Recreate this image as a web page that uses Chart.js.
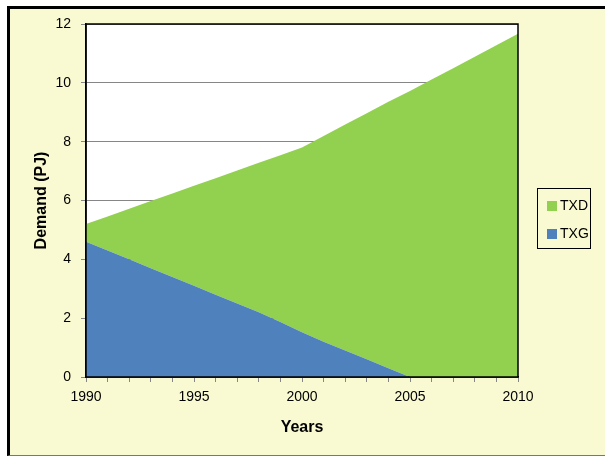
<!DOCTYPE html>
<html>
<head>
<meta charset="utf-8">
<script src="https://cdn.jsdelivr.net/npm/chart.js@4/dist/chart.umd.min.js"></script>
<style>
  html, body { margin:0; padding:0; background:#ffffff; width:605px; height:456px; overflow:hidden; }
  #frame { position:absolute; left:7px; top:6px; width:620px; height:446px; background:#fafad2;
           border-top:3px solid #000; border-left:3px solid #000; border-bottom:1px solid #777; }
  #wrap { position:absolute; left:0; top:0; width:605px; height:456px; }
  #legend { position:absolute; left:537px; top:188px; width:52px; height:59px; border:1px solid #000;
            font-family:"Liberation Sans", Arial, sans-serif; font-size:14px; color:#000; }
  .item { position:absolute; left:9px; height:16px; line-height:16px; }
  .sw { display:inline-block; width:10px; height:10px; vertical-align:-1px; margin-right:3px; }
</style>
</head>
<body>
<div id="frame"></div>
<div id="wrap"><canvas id="c" width="605" height="456"></canvas></div>
<div id="legend">
  <div class="item" style="top:8px"><span class="sw" style="background:#92d050"></span>TXD</div>
  <div class="item" style="top:36px"><span class="sw" style="background:#4f81bd"></span>TXG</div>
</div>
<script>
const years = ['1990','1991','1992','1993','1994','1995','1996','1997','1998','1999','2000',
               '2001','2002','2003','2004','2005','2006','2007','2008','2009','2010'];
const txg = [4.6,4.3,4.0,3.7,3.4,3.1,2.8,2.5,2.2,1.87,1.52,1.2,0.9,0.6,0.3,0,0,0,0,0,0];
const txd = [0.6,1.16,1.72,2.28,2.84,3.4,3.96,4.52,5.08,5.67,6.28,6.99,7.68,8.37,9.06,9.72,10.11,10.5,10.89,11.28,11.67];
const yTicks = [0,2,4,6,8,10,12];

const plotFrame = {
  id: 'plotFrame',
  beforeDraw(chart) {
    const a = chart.chartArea, ctx = chart.ctx;
    ctx.save();
    ctx.fillStyle = '#ffffff';
    ctx.fillRect(a.left, a.top, a.right - a.left, a.bottom - a.top);
    ctx.restore();
  },
  afterDraw(chart) {
    const a = chart.chartArea, ctx = chart.ctx;
    ctx.save();
    ctx.strokeStyle = '#000';
    ctx.lineWidth = 1.5;
    ctx.strokeRect(a.left, a.top, a.right - a.left, a.bottom - a.top);
    ctx.restore();
  }
};

new Chart(document.getElementById('c'), {
  type: 'line',
  data: {
    labels: years,
    datasets: [
      { label: 'TXG', data: txg, backgroundColor: '#4f81bd', borderColor: '#4f81bd', borderWidth: 0,
        fill: 'origin', pointRadius: 0, tension: 0, stack: 's' },
      { label: 'TXD', data: txd, backgroundColor: '#92d050', borderColor: '#92d050', borderWidth: 0,
        fill: '-1', pointRadius: 0, tension: 0, stack: 's' }
    ]
  },
  options: {
    responsive: false,
    animation: false,
    layout: { padding: { left: 12, top: 24, right: 87, bottom: 19 } },
    plugins: { legend: { display: false }, tooltip: { enabled: false } },
    scales: {
      x: {
        type: 'category',
        offset: false,
        grid: { drawOnChartArea: false, drawTicks: true, tickLength: 5, color: '#868686' },
        border: { display: true, color: '#000', width: 1.5 },
        ticks: {
          autoSkip: false, maxRotation: 0, minRotation: 0, padding: 7, color: '#000',
          font: { family: '"Liberation Sans", Arial, sans-serif', size: 14 },
          callback: function(v) { const l = this.getLabelForValue(v); return (+l % 5 === 0) ? l : ''; }
        },
        title: { display: true, text: 'Years', color: '#000', padding: { top: 0, bottom: 0 },
                 font: { family: '"Liberation Sans", Arial, sans-serif', size: 16, weight: 'bold' } },
        afterFit(axis) { axis.height = 60; }
      },
      y: {
        stacked: true,
        min: 0, max: 12,
        afterBuildTicks(axis) { axis.ticks = yTicks.map(v => ({ value: v })); },
        grid: { color: '#868686', lineWidth: 1, drawTicks: true, tickLength: 5 },
        border: { display: true, color: '#000', width: 1.5 },
        ticks: { padding: 10, color: '#000',
                 font: { family: '"Liberation Sans", Arial, sans-serif', size: 14 } },
        title: { display: true, text: 'Demand (PJ)', color: '#000', padding: { top: 20, bottom: 0 },
                 font: { family: '"Liberation Sans", Arial, sans-serif', size: 16, weight: 'bold' } },
        afterFit(axis) { axis.width = 74; }
      }
    }
  },
  plugins: [plotFrame]
});
</script>
</body>
</html>
